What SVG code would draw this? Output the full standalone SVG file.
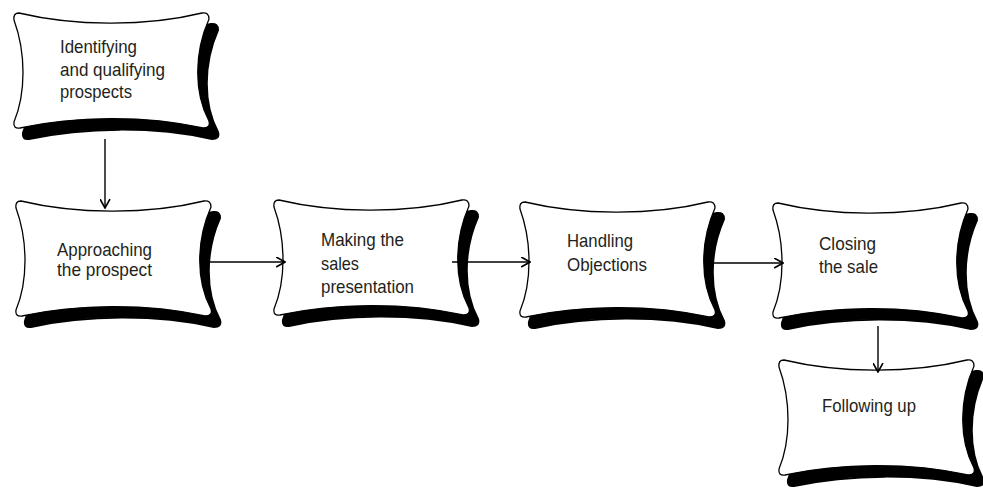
<svg xmlns="http://www.w3.org/2000/svg" xmlns:xlink="http://www.w3.org/1999/xlink" width="983" height="489" viewBox="0 0 983 489">
<style>
.shadow{fill:#000;stroke:#000;stroke-width:2}
.box{fill:#fff;stroke:#000;stroke-width:1.3}
.lbl{font-family:"Liberation Sans",Arial,sans-serif;font-size:18.5px;fill:#231f20}
.conn{stroke:#000;stroke-width:1.4;fill:none}
</style>
<defs>
<path id="shape" d="M6,0 C60,13 132,14 189,0 Q196,-1 196,6 C181,40 181,80 196,108 Q198,115 190,115 C132,102 62,103 7,115 Q0,116 1,109 C13,80 13,40 1,7 Q0,0 6,0 Z"/>
<marker id="arr" viewBox="0 0 10 10" refX="9" refY="5" markerWidth="11" markerHeight="11" markerUnits="userSpaceOnUse" orient="auto">
<path d="M1,0.5 L9,5 L1,9.5" fill="none" stroke="#000" stroke-width="1.5"/>
</marker>
</defs>
<g id="n1">
<use xlink:href="#shape" class="shadow" transform="translate(22,24)"/>
<use xlink:href="#shape" class="box" transform="translate(13,13)"/>
<text class="lbl" x="60" y="53" textLength="77" lengthAdjust="spacingAndGlyphs">Identifying</text>
<text class="lbl" x="60" y="76" textLength="105" lengthAdjust="spacingAndGlyphs">and qualifying</text>
<text class="lbl" x="60" y="98" textLength="72" lengthAdjust="spacingAndGlyphs">prospects</text>
</g>
<g id="n2">
<use xlink:href="#shape" class="shadow" transform="translate(24,212)"/>
<use xlink:href="#shape" class="box" transform="translate(15,201)"/>
<text class="lbl" x="57" y="256" textLength="95" lengthAdjust="spacingAndGlyphs">Approaching</text>
<text class="lbl" x="57" y="276" textLength="95" lengthAdjust="spacingAndGlyphs">the prospect</text>
</g>
<g id="n3">
<use xlink:href="#shape" class="shadow" transform="translate(282,211)"/>
<use xlink:href="#shape" class="box" transform="translate(273,200)"/>
<text class="lbl" x="321" y="246" textLength="83" lengthAdjust="spacingAndGlyphs">Making the</text>
<text class="lbl" x="321" y="270" textLength="38" lengthAdjust="spacingAndGlyphs">sales</text>
<text class="lbl" x="321" y="293" textLength="93" lengthAdjust="spacingAndGlyphs">presentation</text>
</g>
<g id="n4">
<use xlink:href="#shape" class="shadow" transform="translate(528,213)"/>
<use xlink:href="#shape" class="box" transform="translate(519,202)"/>
<text class="lbl" x="567" y="247" textLength="66" lengthAdjust="spacingAndGlyphs">Handling</text>
<text class="lbl" x="567" y="271" textLength="80" lengthAdjust="spacingAndGlyphs">Objections</text>
</g>
<g id="n5">
<use xlink:href="#shape" class="shadow" transform="translate(781,214)"/>
<use xlink:href="#shape" class="box" transform="translate(772,203)"/>
<text class="lbl" x="819" y="250" textLength="57" lengthAdjust="spacingAndGlyphs">Closing</text>
<text class="lbl" x="819" y="273" textLength="59" lengthAdjust="spacingAndGlyphs">the sale</text>
</g>
<g id="n6">
<use xlink:href="#shape" class="shadow" transform="translate(787,371)"/>
<use xlink:href="#shape" class="box" transform="translate(778,360)"/>
<text class="lbl" x="822" y="412" textLength="94" lengthAdjust="spacingAndGlyphs">Following up</text>
</g>
<g id="connectors">
<line class="conn" x1="105" y1="139" x2="105" y2="208" marker-end="url(#arr)"/>
<line class="conn" x1="205" y1="262" x2="285" y2="262" marker-end="url(#arr)"/>
<line class="conn" x1="452" y1="262" x2="530" y2="262" marker-end="url(#arr)"/>
<line class="conn" x1="706" y1="263" x2="783" y2="263" marker-end="url(#arr)"/>
<line class="conn" x1="878" y1="326" x2="878" y2="372" marker-end="url(#arr)"/>
</g>
</svg>
